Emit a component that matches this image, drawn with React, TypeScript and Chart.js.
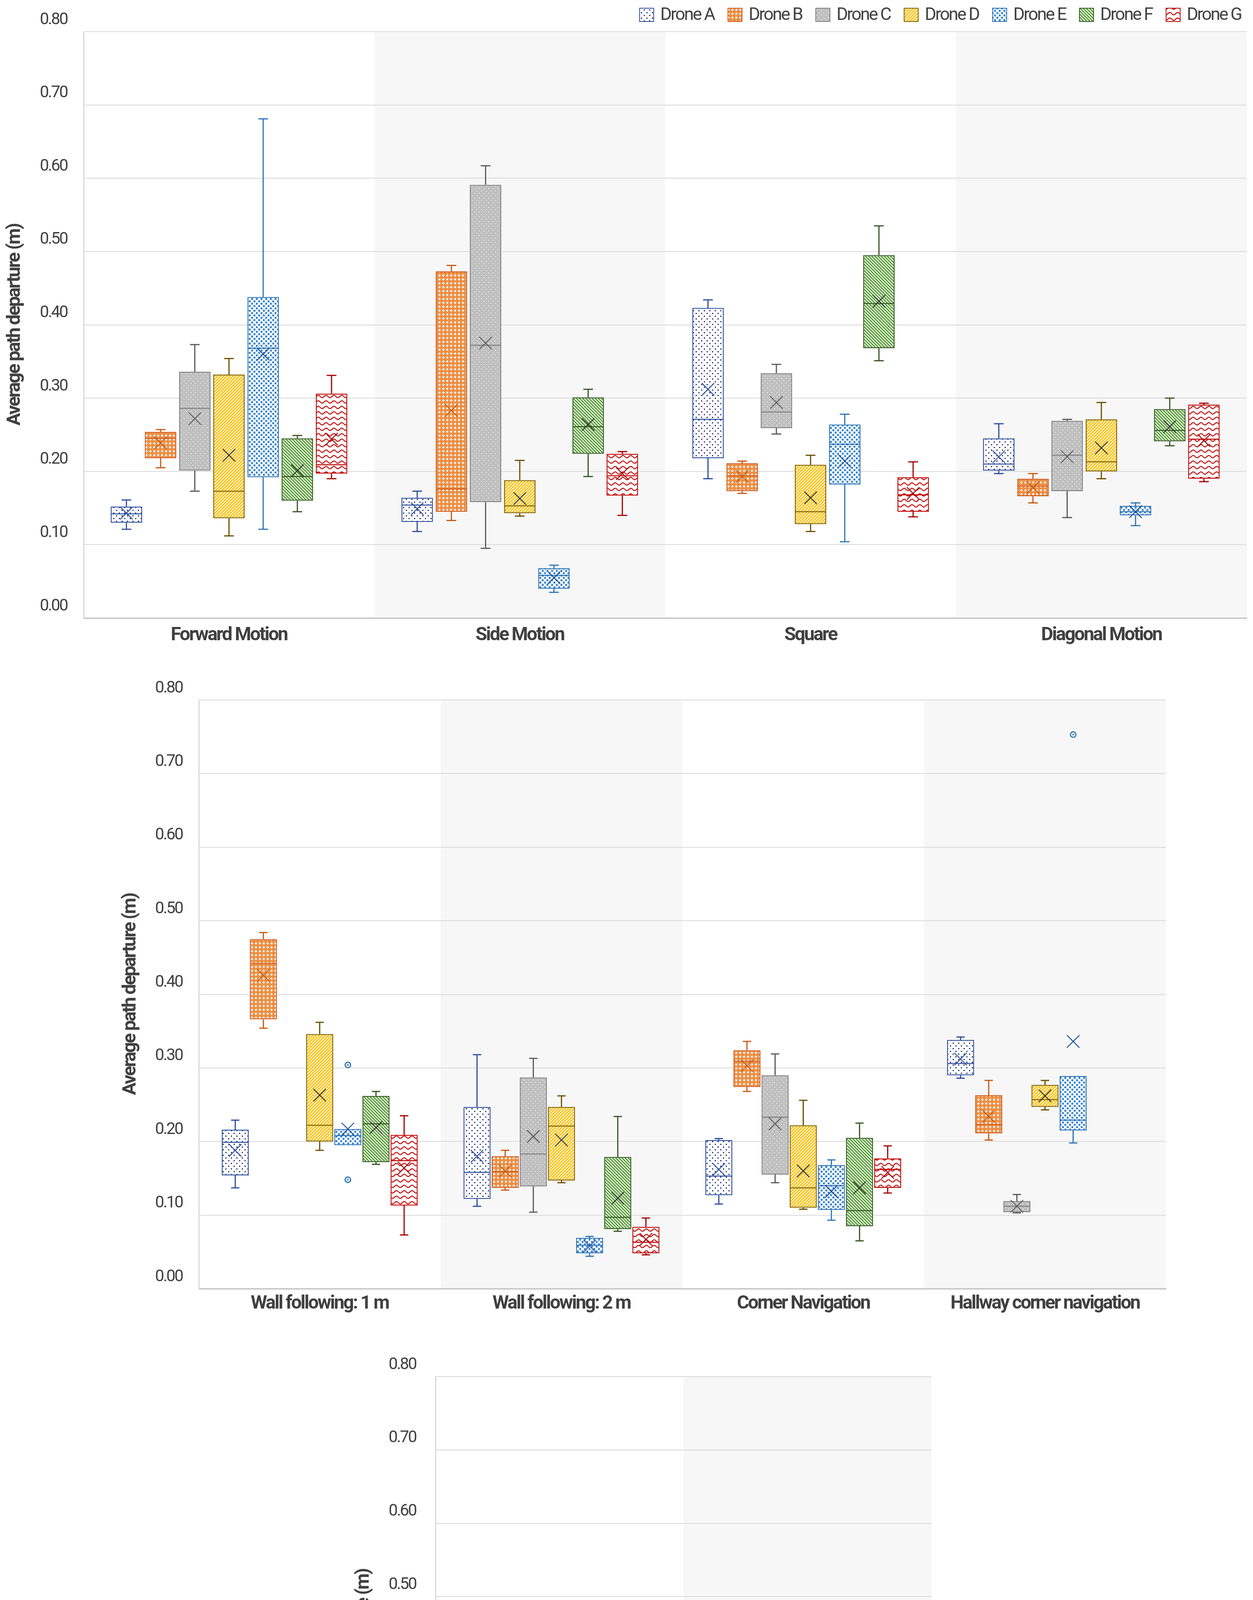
import React, { useEffect, useRef } from "react";
import { Chart, registerables } from "chart.js";

Chart.register(...registerables);

// ---------------- data ----------------
const DRONES = ["Drone A", "Drone B", "Drone C", "Drone D", "Drone E", "Drone F", "Drone G"];
const Y_TICKS = [0, 0.1, 0.2, 0.3, 0.4, 0.5, 0.6, 0.7, 0.8];
const Y_TITLE = "Average path departure (m)";

const CATS_1 = ["Forward Motion", "Side Motion", "Square", "Diagonal Motion"];
const CATS_2 = ["Wall following: 1 m", "Wall following: 2 m", "Corner Navigation", "Hallway corner navigation"];
const CATS_3 = ["Aperture 1.5", "Aperture 2"];

// panel 1 (rows = drones A..G, columns = categories)
const P1_MIN = [
  [0.121, 0.118, 0.19, 0.197],
  [0.205, 0.133, 0.17, 0.157],
  [0.173, 0.095, 0.251, 0.137],
  [0.112, 0.139, 0.118, 0.19],
  [0.121, 0.035, 0.104, 0.126],
  [0.145, 0.193, 0.351, 0.235],
  [0.19, 0.14, 0.138, 0.186],
];
const P1_Q1 = [
  [0.13, 0.131, 0.218, 0.201],
  [0.218, 0.145, 0.173, 0.166],
  [0.201, 0.158, 0.259, 0.173],
  [0.136, 0.143, 0.128, 0.2],
  [0.192, 0.04, 0.182, 0.14],
  [0.16, 0.224, 0.368, 0.241],
  [0.197, 0.167, 0.145, 0.19],
];
const P1_MED = [
  [0.142, 0.154, 0.271, 0.21],
  [0.245, 0.176, 0.194, 0.18],
  [0.286, 0.372, 0.281, 0.222],
  [0.173, 0.153, 0.145, 0.213],
  [0.368, 0.058, 0.237, 0.145],
  [0.193, 0.261, 0.429, 0.256],
  [0.209, 0.194, 0.168, 0.244],
];
const P1_Q3 = [
  [0.152, 0.164, 0.423, 0.245],
  [0.254, 0.473, 0.211, 0.19],
  [0.336, 0.591, 0.334, 0.269],
  [0.332, 0.188, 0.209, 0.271],
  [0.438, 0.068, 0.264, 0.153],
  [0.245, 0.301, 0.495, 0.285],
  [0.306, 0.224, 0.192, 0.291],
];
const P1_MAX = [
  [0.161, 0.173, 0.434, 0.265],
  [0.257, 0.481, 0.214, 0.197],
  [0.373, 0.617, 0.346, 0.271],
  [0.354, 0.215, 0.222, 0.294],
  [0.681, 0.072, 0.278, 0.157],
  [0.249, 0.312, 0.535, 0.3],
  [0.331, 0.227, 0.213, 0.293],
];
const P1_MEAN = [
  [0.143, 0.149, 0.312, 0.22],
  [0.239, 0.283, 0.193, 0.178],
  [0.272, 0.375, 0.294, 0.22],
  [0.222, 0.163, 0.164, 0.232],
  [0.36, 0.055, 0.214, 0.145],
  [0.201, 0.264, 0.432, 0.261],
  [0.244, 0.197, 0.17, 0.242],
];

// panel 2
const P2_MIN = [
  [0.137, 0.112, 0.115, 0.286],
  [0.354, 0.134, 0.268, 0.202],
  [null, 0.104, 0.144, 0.103],
  [0.188, 0.144, 0.108, 0.243],
  [0.195, 0.044, 0.093, 0.198],
  [0.169, 0.078, 0.065, null],
  [0.073, 0.046, 0.13, null],
];
const P2_Q1 = [
  [0.154, 0.122, 0.127, 0.29],
  [0.366, 0.137, 0.274, 0.211],
  [null, 0.139, 0.155, 0.104],
  [0.2, 0.147, 0.11, 0.247],
  [0.195, 0.048, 0.107, 0.215],
  [0.172, 0.081, 0.085, null],
  [0.113, 0.048, 0.137, null],
];
const P2_MED = [
  [0.199, 0.158, 0.153, 0.306],
  [0.442, 0.159, 0.309, 0.223],
  [null, 0.183, 0.233, 0.112],
  [0.222, 0.221, 0.137, 0.257],
  [0.208, 0.059, 0.14, 0.229],
  [0.224, 0.097, 0.106, null],
  [0.174, 0.063, 0.162, null],
];
const P2_Q3 = [
  [0.216, 0.247, 0.202, 0.338],
  [0.475, 0.18, 0.324, 0.263],
  [null, 0.287, 0.29, 0.119],
  [0.346, 0.247, 0.222, 0.277],
  [0.217, 0.069, 0.168, 0.289],
  [0.262, 0.179, 0.205, null],
  [0.209, 0.084, 0.177, null],
];
const P2_MAX = [
  [0.229, 0.318, 0.204, 0.342],
  [0.484, 0.188, 0.336, 0.283],
  [null, 0.313, 0.319, 0.128],
  [0.362, 0.262, 0.256, 0.283],
  [0.217, 0.071, 0.175, 0.289],
  [0.268, 0.234, 0.225, null],
  [0.235, 0.096, 0.194, null],
];
const P2_MEAN = [
  [0.188, 0.18, 0.162, 0.312],
  [0.426, 0.16, 0.303, 0.234],
  [null, 0.207, 0.224, 0.112],
  [0.263, 0.202, 0.16, 0.262],
  [0.217, 0.058, 0.132, 0.336],
  [0.219, 0.123, 0.137, null],
  [0.164, 0.067, 0.158, null],
];
const P2_OUT_DRONE = [4, 4, 4];
const P2_OUT_CAT = [0, 0, 3];
const P2_OUT_VAL = [0.304, 0.148, 0.753];

// panel 3
const P3_MIN = [
  [0.101, 0.083],
  [0.104, 0.11],
  [0.205, 0.202],
  [0.223, 0.28],
  [0.12, 0.081],
  [null, null],
  [null, null],
];
const P3_Q1 = [
  [0.116, 0.101],
  [0.11, 0.122],
  [0.221, 0.242],
  [0.229, 0.309],
  [0.125, 0.091],
  [null, null],
  [null, null],
];
const P3_MED = [
  [0.167, 0.129],
  [0.13, 0.167],
  [0.239, 0.308],
  [0.265, 0.405],
  [0.17, 0.143],
  [null, null],
  [null, null],
];
const P3_Q3 = [
  [0.188, 0.149],
  [0.327, 0.207],
  [0.292, 0.389],
  [0.308, 0.44],
  [0.189, 0.185],
  [null, null],
  [null, null],
];
const P3_MAX = [
  [0.203, 0.166],
  [0.466, 0.215],
  [0.328, 0.464],
  [0.346, 0.475],
  [0.202, 0.208],
  [null, null],
  [null, null],
];
const P3_MEAN = [
  [0.155, 0.126],
  [0.202, 0.166],
  [0.252, 0.314],
  [0.268, 0.38],
  [0.162, 0.143],
  [null, null],
  [null, null],
];

// ---------------- styles ----------------
const FONT = "Roboto, 'Liberation Sans', 'DejaVu Sans', sans-serif";
const LETTER_SPACING = "-3px";
const TEXT_COLOR = "#404040";
const BORDER_COLORS = ["#2D4E9E", "#D35A1E", "#7F7F7F", "#7F6000", "#2E75B6", "#375623", "#C00000"];
const WHISKER_COLORS = ["#2D4E9E", "#C55A11", "#595959", "#6B5000", "#2E75B6", "#375623", "#A50000"];
const MEAN_COLORS = ["#2D4E9E", "#C55A11", "#595959", "#333333", "#1F4E99", "#333333", "#A50000"];
const PATTERN_KINDS = ["dots", "grid", "fine", "fwd", "squares", "back", "wave"];
const PATTERN_COLORS = ["#1C2C70", "#E46C0A", "#7F7F7F", "#FFC000", "#3A86D0", "#4E9A2A", "#C00000"];

function makePattern(ctx: CanvasRenderingContext2D, kind: string, color: string): CanvasPattern | string {
  const c = document.createElement("canvas");
  let w = 12;
  let h = 12;
  if (kind === "dots") { w = 14; h = 14; }
  if (kind === "grid") { w = 10; h = 10; }
  if (kind === "fwd" || kind === "back") { w = 8; h = 8; }
  if (kind === "squares") { w = 12; h = 12; }
  if (kind === "wave") { w = 20; h = 14; }
  c.width = w;
  c.height = h;
  const g = c.getContext("2d");
  if (!g) return color;
  g.fillStyle = "#ffffff";
  g.fillRect(0, 0, w, h);
  g.fillStyle = color;
  g.strokeStyle = color;
  if (kind === "dots") {
    g.fillRect(3, 3, 3, 3);
    g.fillRect(10, 10, 3, 3);
  } else if (kind === "grid") {
    g.fillRect(0, 0, w, h);
    g.fillStyle = "#ffffff";
    for (let y = 0; y < h; y += 2) for (let x = 0; x < w; x += 2) g.fillRect(x, y, 1, 1);
    g.fillRect(4, 2, 2, 6);
    g.fillRect(2, 4, 6, 2);
  } else if (kind === "fine") {
    for (let y = 0; y < h; y++) for (let x = 0; x < w; x++) if ((x + y) % 2 === 0) g.fillRect(x, y, 1, 1);
    g.fillStyle = "#ffffff";
    g.fillRect(2, 2, 2, 2);
    g.fillRect(8, 8, 2, 2);
  } else if (kind === "fwd") {
    g.lineWidth = 3.4;
    for (let k = -1; k <= 1; k++) {
      g.beginPath();
      g.moveTo(k * w - 1, h + 1);
      g.lineTo(k * w + w + 1, -1);
      g.stroke();
    }
  } else if (kind === "back") {
    g.lineWidth = 3.1;
    for (let k = -1; k <= 1; k++) {
      g.beginPath();
      g.moveTo(k * w - 1, -1);
      g.lineTo(k * w + w + 1, h + 1);
      g.stroke();
    }
  } else if (kind === "squares") {
    g.fillRect(1, 1, 5, 5);
    g.fillRect(7, 7, 5, 5);
  } else if (kind === "wave") {
    g.lineWidth = 2.4;
    g.beginPath();
    for (let x = 0; x <= w; x++) {
      const y = 7 + 3 * Math.sin((2 * Math.PI * x) / w);
      if (x === 0) g.moveTo(x, y);
      else g.lineTo(x, y);
    }
    g.stroke();
  }
  return ctx.createPattern(c, "repeat") || color;
}

type Stats = {
  min: (number | null)[][];
  q1: (number | null)[][];
  med: (number | null)[][];
  q3: (number | null)[][];
  max: (number | null)[][];
  mean: (number | null)[][];
  outDrone?: number[];
  outCat?: number[];
  outVal?: number[];
};

const spacingPlugin = {
  id: "letterSpacing",
  beforeUpdate(chart: any) {
    (chart.ctx as any).letterSpacing = LETTER_SPACING;
  },
  beforeDraw(chart: any) {
    (chart.ctx as any).letterSpacing = LETTER_SPACING;
  },
};

function boxPlugin(stats: Stats) {
  return {
    id: "boxExtras",
    afterDatasetsDraw(chart: any) {
      const ctx: CanvasRenderingContext2D = chart.ctx;
      const ys = chart.scales.y;
      const yp = (v: number) => ys.getPixelForValue(v);
      const line = (x1: number, y1: number, x2: number, y2: number) => {
        ctx.beginPath();
        ctx.moveTo(x1, y1);
        ctx.lineTo(x2, y2);
        ctx.stroke();
      };
      ctx.save();
      chart.data.datasets.forEach((ds: any, i: number) => {
        const meta = chart.getDatasetMeta(i);
        meta.data.forEach((el: any, j: number) => {
          const raw = ds.data[j];
          if (!raw) return;
          const { x, width } = el.getProps(["x", "width"], true);
          const half = width / 2;
          const q1 = raw[0];
          const q3 = raw[1];
          const mn = stats.min[i][j];
          const mx = stats.max[i][j];
          const md = stats.med[i][j];
          const mean = stats.mean[i][j];
          const cap = width * 0.155;
          ctx.strokeStyle = WHISKER_COLORS[i];
          ctx.lineWidth = 3;
          if (mx != null && mx > q3) {
            line(x, yp(q3), x, yp(mx));
            line(x - cap, yp(mx), x + cap, yp(mx));
          }
          if (mn != null && mn < q1) {
            line(x, yp(q1), x, yp(mn));
            line(x - cap, yp(mn), x + cap, yp(mn));
          }
          if (md != null) {
            ctx.strokeStyle = BORDER_COLORS[i];
            ctx.lineWidth = 2.5;
            line(x - half + 1.5, yp(md), x + half - 1.5, yp(md));
          }
          if (mean != null) {
            const s = 16;
            const my = yp(mean);
            ctx.strokeStyle = MEAN_COLORS[i];
            ctx.lineWidth = 2.4;
            line(x - s, my - s, x + s, my + s);
            line(x - s, my + s, x + s, my - s);
          }
        });
      });
      if (stats.outVal) {
        stats.outVal.forEach((v, k) => {
          const di = stats.outDrone![k];
          const cj = stats.outCat![k];
          const el = chart.getDatasetMeta(di).data[cj];
          if (!el) return;
          const { x } = el.getProps(["x"], true);
          ctx.strokeStyle = BORDER_COLORS[di];
          ctx.fillStyle = "#ffffff";
          ctx.lineWidth = 3;
          ctx.beginPath();
          ctx.arc(x, yp(v), 7, 0, Math.PI * 2);
          ctx.fill();
          ctx.stroke();
          ctx.fillStyle = BORDER_COLORS[di];
          ctx.beginPath();
          ctx.arc(x, yp(v), 2.2, 0, Math.PI * 2);
          ctx.fill();
        });
      }
      ctx.restore();
    },
  };
}

const shadePlugin = {
  id: "shade",
  beforeDraw(chart: any) {
    const { ctx, chartArea } = chart;
    const xs = chart.scales.x;
    const n = chart.data.labels.length;
    const w = (xs.right - xs.left) / n;
    ctx.save();
    ctx.fillStyle = "#F7F7F7";
    for (let i = 1; i < n; i += 2) {
      const cx = xs.getPixelForValue(i);
      ctx.fillRect(cx - w / 2, chartArea.top, w, chartArea.bottom - chartArea.top);
    }
    ctx.restore();
  },
};

function legendPlugin(patterns: (CanvasPattern | string)[]) {
  return {
    id: "patternLegend",
    afterDraw(chart: any) {
      const { ctx, chartArea } = chart;
      ctx.save();
      (ctx as any).letterSpacing = LETTER_SPACING;
      ctx.font = `45px ${FONT}`;
      ctx.textBaseline = "middle";
      ctx.textAlign = "left";
      const cy = chartArea.top - 43;
      let right = chartArea.right - 14;
      for (let i = DRONES.length - 1; i >= 0; i--) {
        const label = chart.data.datasets[i].label;
        const tw = ctx.measureText(label).width;
        const tx = right - tw;
        ctx.fillStyle = TEXT_COLOR;
        ctx.fillText(label, tx, cy + 2);
        const bx = tx - 16 - 38;
        ctx.fillStyle = patterns[i];
        ctx.fillRect(bx, cy - 18, 38, 36);
        ctx.strokeStyle = BORDER_COLORS[i];
        ctx.lineWidth = 2;
        ctx.strokeRect(bx + 1, cy - 17, 36, 34);
        right = bx - 34;
      }
      ctx.restore();
    },
  };
}

type PanelSpec = {
  top: number;
  height: number;
  labels: string[];
  stats: Stats;
  padding: { left: number; right: number; top: number; bottom: number };
  yWidth: number;
  xHeight: number;
  xPad: number;
  tickPad: number;
  barPct: number;
  catPct: number;
  legend: boolean;
};

function Panel({ spec }: { spec: PanelSpec }) {
  const ref = useRef<HTMLCanvasElement>(null);
  useEffect(() => {
    const canvas = ref.current;
    if (!canvas) return;
    const ctx = canvas.getContext("2d") as CanvasRenderingContext2D;
    const patterns = PATTERN_KINDS.map((k, i) => makePattern(ctx, k, PATTERN_COLORS[i]));
    const st = spec.stats;
    const datasets = DRONES.map((name, i) => ({
      label: name,
      data: spec.labels.map((_, j) => (st.q1[i][j] == null ? null : [st.q1[i][j], st.q3[i][j]])),
      backgroundColor: patterns[i],
      borderColor: BORDER_COLORS[i],
      borderWidth: 2.5,
      borderSkipped: false,
      barPercentage: spec.barPct,
      categoryPercentage: spec.catPct,
    }));
    const plugins: any[] = [spacingPlugin, shadePlugin, boxPlugin(st)];
    if (spec.legend) plugins.push(legendPlugin(patterns));
    const chart = new Chart(canvas, {
      type: "bar",
      data: { labels: spec.labels, datasets: datasets as any },
      plugins,
      options: {
        responsive: false,
        animation: false,
        devicePixelRatio: 1,
        events: [],
        layout: { padding: spec.padding },
        plugins: {
          legend: { display: false },
          tooltip: { enabled: false },
          title: { display: false },
        },
        scales: {
          x: {
            type: "category",
            grid: { display: false, drawTicks: false },
            border: { display: true, color: "#BFBFBF", width: 3 },
            ticks: {
              font: { family: FONT, size: 48, weight: "bold" },
              color: TEXT_COLOR,
              padding: spec.xPad,
              maxRotation: 0,
              autoSkip: false,
            },
            afterFit: (s: any) => {
              s.height = spec.xHeight;
            },
          },
          y: {
            type: "linear",
            min: 0,
            max: 0.8,
            grid: { color: "#D9D9D9", lineWidth: 2, drawTicks: false },
            border: { display: true, color: "#D9D9D9", width: 3 },
            ticks: {
              font: { family: FONT, size: 42 },
              color: TEXT_COLOR,
              padding: spec.tickPad,
              labelOffset: -30,
              callback: (v: any) => Number(v).toFixed(2),
            },
            afterBuildTicks: (s: any) => {
              s.ticks = Y_TICKS.map((v) => ({ value: v }));
            },
            title: {
              display: true,
              text: Y_TITLE,
              font: { family: FONT, size: 48, weight: "bold" },
              color: TEXT_COLOR,
              padding: { top: 10, bottom: 0 },
            },
            afterFit: (s: any) => {
              s.width = spec.yWidth;
            },
          },
        },
      } as any,
    });
    return () => chart.destroy();
  }, []);
  return (
    <canvas
      ref={ref}
      width={3208}
      height={spec.height}
      style={{ position: "absolute", left: 0, top: spec.top, width: 3208, height: spec.height }}
    />
  );
}

const PANEL_1: PanelSpec = {
  top: 0,
  height: 1700,
  labels: CATS_1,
  stats: { min: P1_MIN, q1: P1_Q1, med: P1_MED, q3: P1_Q3, max: P1_MAX, mean: P1_MEAN },
  padding: { left: 0, right: 16, top: 81, bottom: 0 },
  yWidth: 214,
  xHeight: 118,
  xPad: 16,
  tickPad: 42,
  barPct: 0.92,
  catPct: 0.823,
  legend: true,
};

const PANEL_2: PanelSpec = {
  top: 1700,
  height: 1700,
  labels: CATS_2,
  stats: {
    min: P2_MIN, q1: P2_Q1, med: P2_MED, q3: P2_Q3, max: P2_MAX, mean: P2_MEAN,
    outDrone: P2_OUT_DRONE, outCat: P2_OUT_CAT, outVal: P2_OUT_VAL,
  },
  padding: { left: 296, right: 223, top: 92, bottom: 0 },
  yWidth: 213,
  xHeight: 101,
  xPad: 10,
  tickPad: 42,
  barPct: 0.96,
  catPct: 0.815,
  legend: false,
};

const PANEL_3: PanelSpec = {
  top: 3400,
  height: 1707,
  labels: CATS_3,
  stats: { min: P3_MIN, q1: P3_Q1, med: P3_MED, q3: P3_Q3, max: P3_MAX, mean: P3_MEAN },
  padding: { left: 893, right: 823, top: 124, bottom: 0 },
  yWidth: 222,
  xHeight: 81,
  xPad: 10,
  tickPad: 50,
  barPct: 0.88,
  catPct: 0.8,
  legend: false,
};

export default function App() {
  return (
    <div
      style={{
        position: "absolute",
        left: 0,
        top: 0,
        width: 3208,
        height: 5107,
        background: "#ffffff",
        overflow: "hidden",
      }}
    >
      <Panel spec={PANEL_1} />
      <Panel spec={PANEL_2} />
      <Panel spec={PANEL_3} />
    </div>
  );
}
